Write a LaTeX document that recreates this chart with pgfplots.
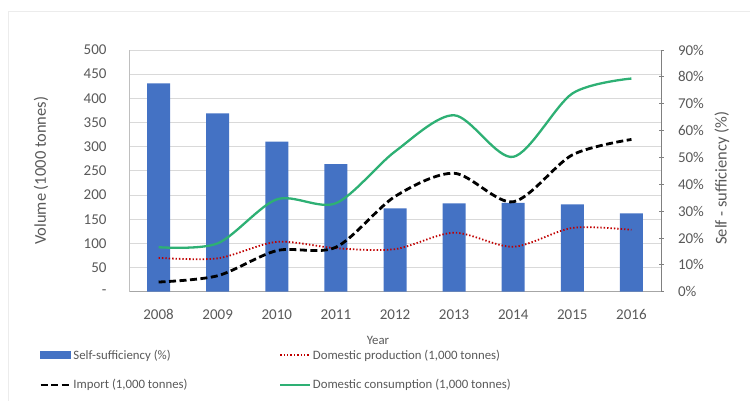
\documentclass[border=0pt]{standalone}
\usepackage{pgfplots}
\pgfplotsset{compat=1.18}
\usepackage{fontspec}
\setmainfont{Carlito}
\definecolor{barblue}{RGB}{68,114,196}
\definecolor{consgreen}{RGB}{46,176,116}
\definecolor{prodred}{RGB}{192,0,0}
\definecolor{txtgray}{RGB}{89,89,89}
\definecolor{gridgray}{RGB}{217,217,217}
\newcommand{\tf}{\fontsize{12.8bp}{15bp}\selectfont}
\newcommand{\tkf}{\fontsize{15bp}{17bp}\selectfont}
\newcommand{\ttf}{\fontsize{16.5bp}{19bp}\selectfont}
\begin{document}
\begin{tikzpicture}
\path[use as bounding box] (0,0) rectangle (750bp,401bp);
\draw[gray!15, line width=0.8bp] (8bp,0bp) -- (8bp,390bp) -- (750bp,390bp);
% ---- bars (right axis, percent) ----
\begin{axis}[
  at={(129bp,109.3bp)}, anchor=south west,
  scale only axis, width=532bp, height=241.7bp,
  xmin=-0.5, xmax=8.5, ymin=0, ymax=90,
  axis x line*=bottom, axis y line*=right,
  x axis line style={-, draw={rgb,255:red,166;green,166;blue,166}, line width=0.8bp},
  y axis line style={-, draw={rgb,255:red,128;green,128;blue,128}, line width=0.8bp},
  xtick={0,...,8},
  xticklabels={2008,2009,2010,2011,2012,2013,2014,2015,2016},
  xtick style={draw=none},
  xticklabel style={font=\tkf, text=txtgray, yshift=-12bp},
  ytick={0,10,...,90},
  yticklabels={0\%,10\%,20\%,30\%,40\%,50\%,60\%,70\%,80\%,90\%},
  ytick style={draw={rgb,255:red,128;green,128;blue,128}, line width=0.8bp},
  tick align=center, major tick length=5bp,
  yticklabel style={font=\tkf, text=txtgray, xshift=11bp},
  extra y ticks={9,18,27,36,45,54,63,72,81,90},
  extra y tick labels={},
  extra y tick style={grid=major, major tick length=0pt},
  major grid style={draw=gridgray, line width=0.8bp},
  ylabel={Self - sufficiency (\%)},
  every axis y label/.style={at={(axis description cs:1.1147,0.47)}, rotate=90, anchor=center, font=\ttf, text=txtgray},
  xlabel={Year},
  every axis x label/.style={at={(axis description cs:0.468,-0.2)}, anchor=center, font=\tf, text=txtgray},
]
\addplot[ybar, bar width=23bp, fill=barblue, draw=none] coordinates {
(0,77.6) (1,66.4) (2,55.9) (3,47.5) (4,31.0) (5,32.9) (6,33.1) (7,32.5) (8,29.2)};
\end{axis}
% ---- lines (left axis, volume) ----
\begin{axis}[
  at={(129bp,109.3bp)}, anchor=south west,
  scale only axis, width=532bp, height=241.7bp,
  xmin=-0.5, xmax=8.5, ymin=0, ymax=500,
  axis x line=none, axis y line*=left,
  y axis line style={-, draw={rgb,255:red,191;green,191;blue,191}, line width=0.8bp},
  ytick={0,50,...,500},
  yticklabels={-,50,100,150,200,250,300,350,400,450,500},
  ytick style={draw=none},
  yticklabel style={font=\tkf, text=txtgray, xshift=-19bp},
  ylabel={Volume (1000 tonnes)},
  every axis y label/.style={at={(axis description cs:-0.1654,0.5)}, rotate=90, anchor=center, font=\ttf, text=txtgray},
  legend columns=2,
  legend cell align=left,
  legend image code/.code={\draw[#1] (0bp,0bp) -- (30bp,0bp);},
  legend style={at={(axis description cs:-0.1748,-0.2247)}, anchor=north west,
    draw=none, fill=none, font=\tf, text=txtgray,
    nodes={inner sep=1.5bp},
    row sep=16bp,
    /tikz/every even column/.append style={column sep=90bp}},
]
\addlegendimage{legend image code/.code={\fill[barblue] (0bp,-3.5bp) rectangle (30bp,3.5bp);}}
\addlegendentry{Self-sufficiency (\%)}
\addplot[prodred, line width=1.8bp, dash pattern=on 1.4bp off 2bp, smooth] coordinates {
(0,70) (1,69) (2,103) (3,90) (4,88) (5,122) (6,93) (7,132) (8,128)};
\addlegendentry{Domestic production (1,000 tonnes)}
\addplot[black, line width=2.8bp, dash pattern=on 7bp off 3.5bp, smooth] coordinates {
(0,20) (1,33) (2,85) (3,92) (4,197) (5,245) (6,186) (7,283) (8,315)};
\addlegendentry{Import (1,000 tonnes)}
\addplot[consgreen, line width=2.3bp, smooth] coordinates {
(0,92) (1,100) (2,191) (3,183) (4,290) (5,365) (6,279) (7,410) (8,441)};
\addlegendentry{Domestic consumption (1,000 tonnes)}
\end{axis}
\end{tikzpicture}
\end{document}
